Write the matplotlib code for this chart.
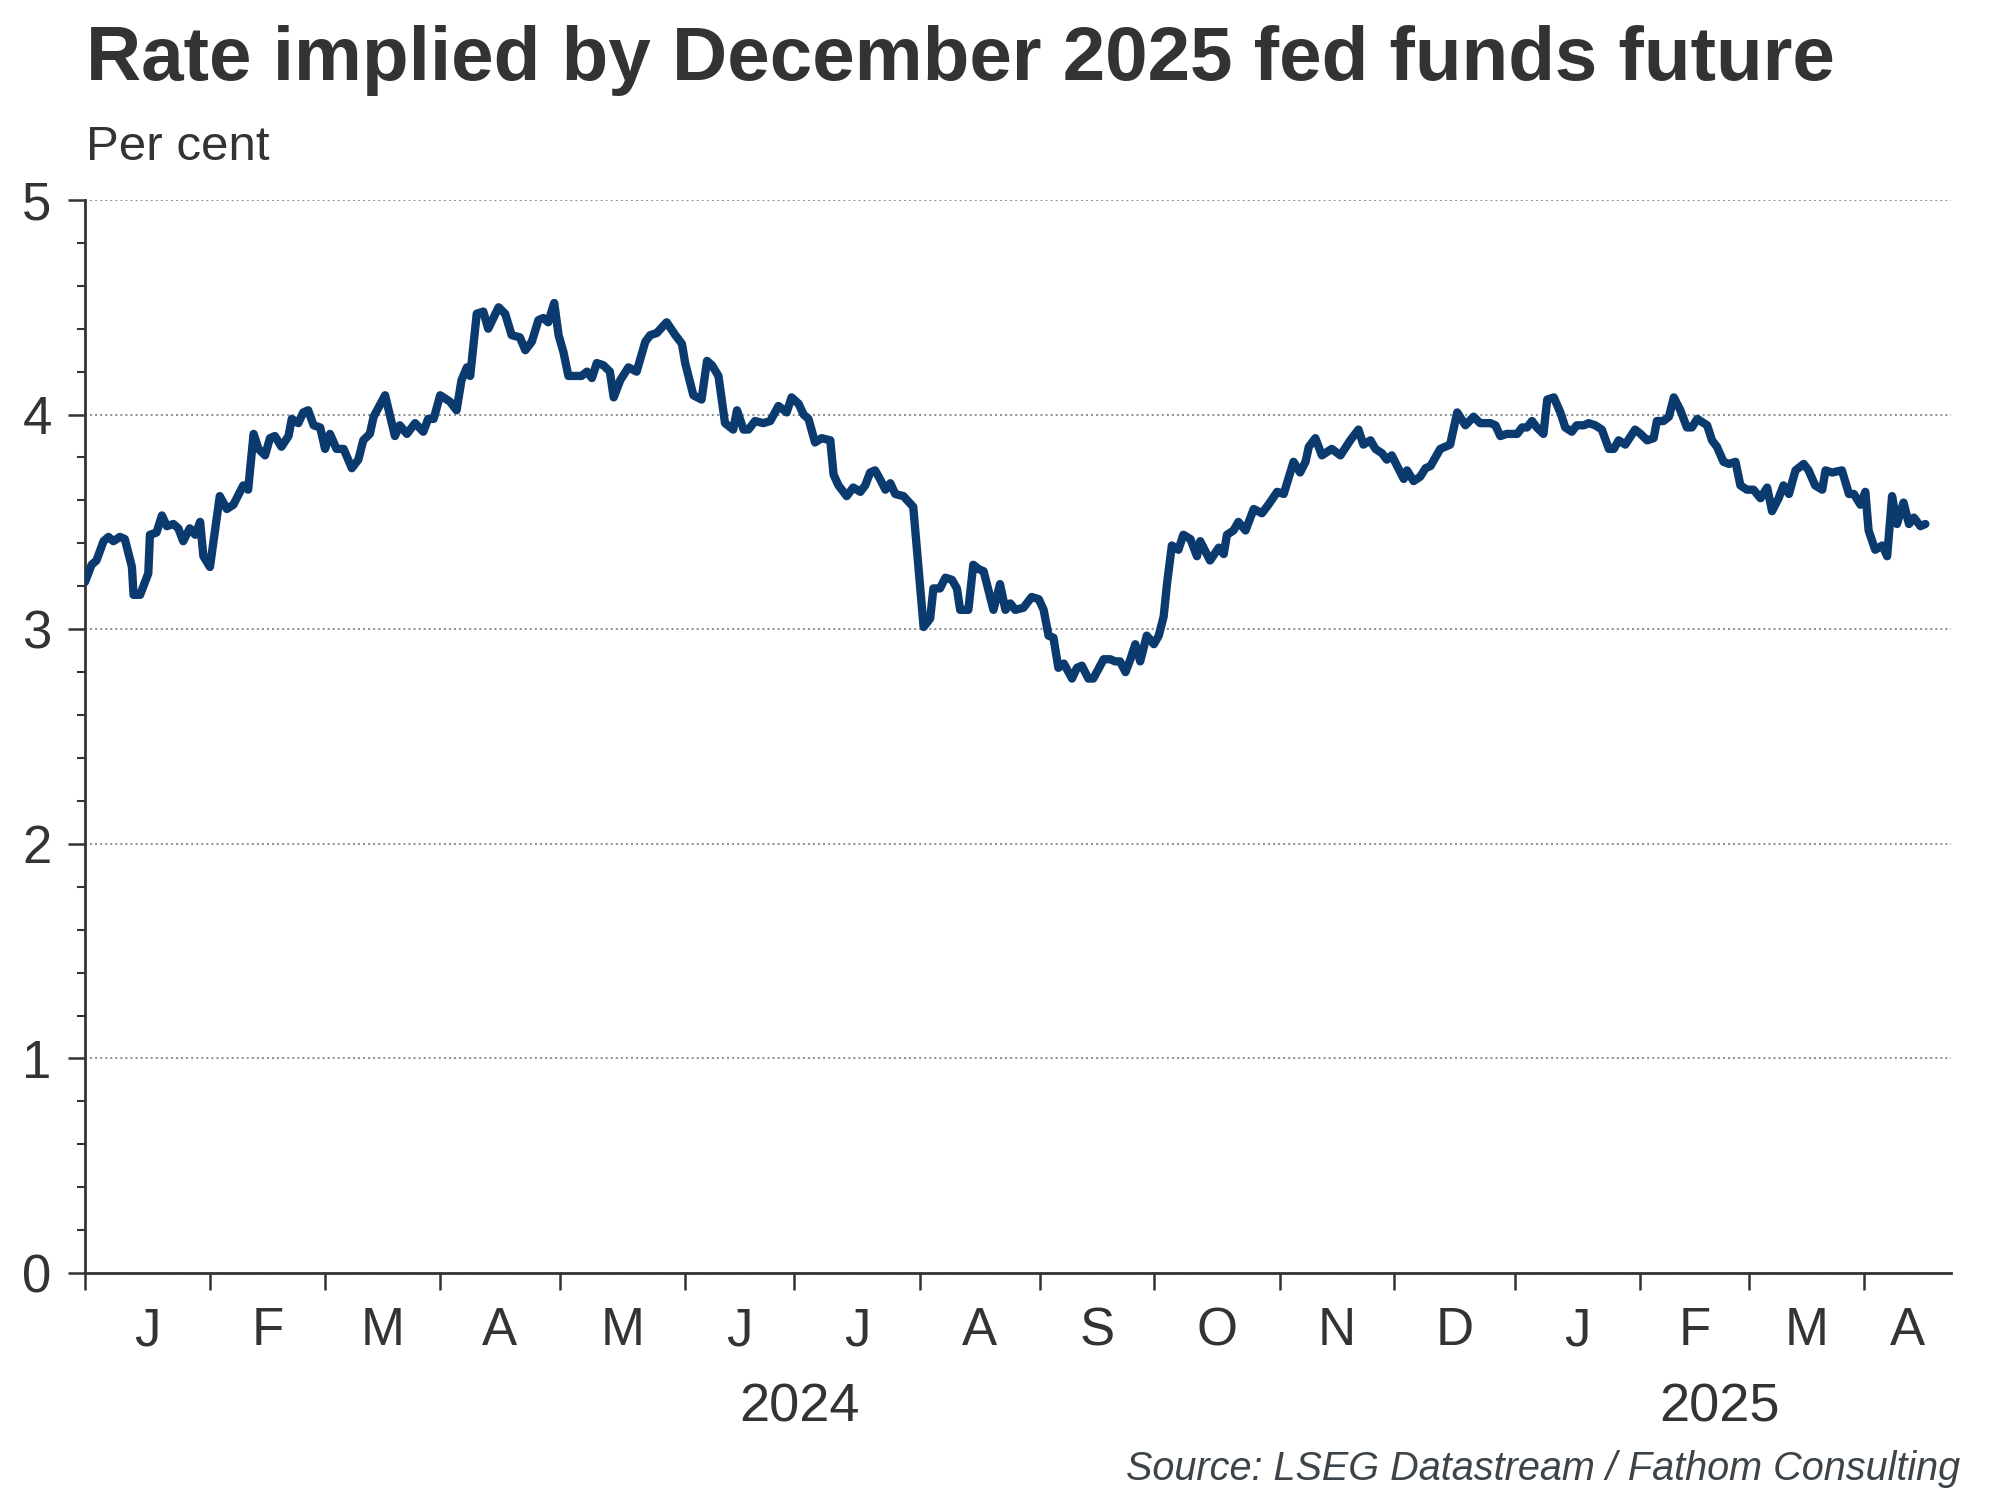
import pandas as pd
import matplotlib
matplotlib.use("Agg")
import matplotlib.pyplot as plt
import matplotlib.transforms as mtransforms
from matplotlib.ticker import FixedLocator, MultipleLocator, NullFormatter

plt.rcParams["font.family"] = ["Liberation Sans", "DejaVu Sans"]

# trading day number (0 = 1 Jan 2024) and implied rate (per cent)
day = [
    0, 1.2, 2.1, 3.4, 4.3, 5.2, 6.4, 7.3, 8.6, 8.9,
    10.1, 11.6, 11.9, 13.1, 14.1, 15, 16.2, 17.1, 18, 19.2,
    20.2, 21.1, 21.7, 22.9, 24.7, 26, 27.2, 28.4, 29, 29.9,
    30.9, 31.8, 33, 33.9, 34.8, 36, 37.3, 37.9, 39.1, 40,
    40.9, 41.9, 43.1, 44, 44.9, 46.1, 47.4, 48.9, 50.1, 51,
    52.2, 52.9, 55, 56.8, 57.7, 59, 60.5, 62, 62.9, 63.9,
    65.1, 66.9, 68.1, 69, 70, 70.6, 71.8, 73, 73.9, 75.8,
    77, 78.2, 79.7, 80.7, 81.9, 83.1, 84, 84.9, 86,
    86.8, 87.7, 88.6, 89.5, 91, 92, 92.9, 93.8, 95, 96.2,
    96.9, 98.1, 99.6, 101.1, 102.7, 103.6, 104.8, 106.6, 108.2, 109.4,
    110, 111.5, 113, 114, 114.9, 116.1, 117.3, 118.8, 119.5, 120.7,
    121.6, 122.8, 124.3, 125.6, 127.1, 128.6, 129.5, 130.8, 131.7, 132.6,
    133.8, 135, 136.6, 137.2, 138.1, 139.6, 140.8, 142.1, 143, 143.9,
    144.8, 145.7, 146.7, 147.6, 148.5, 150, 151.8, 153.7, 154.9, 155.5,
    156.7, 157.7, 158.9, 159.8, 160.4, 161.9, 162.8, 163.8, 164.7, 166.5,
    167.7, 168.7, 169.6, 170.5, 172, 173.5, 174.8, 175.7,
    176.6, 177.5, 178.4, 179.4, 180.9, 181.8, 182.7, 183.9, 184.8, 186.7,
    187.9, 188.8, 189.7, 190.7, 191.6, 192.5, 193.4, 194.6, 195.9, 196.8,
    197.7, 198.3, 199.2, 200.4, 201.3, 202.6, 203.8, 204.4, 206.2, 207.8,
    208.7, 209.3, 210.5, 211.4, 212.7, 214.2, 215.7, 216.9, 218.5, 219.7,
    221.5, 222.7, 223.7, 224.3, 225.5, 226.7, 228.5, 230.1, 231.9, 233.4,
    234.3, 235.6, 236.5, 237.7, 238.6, 239.5, 241.7, 242.3, 243.5, 244.7,
    245.7, 246.6, 248.4, 250.2, 251.5, 253, 254.5,
    255.7, 257.6, 258.5, 259.4, 260.6, 262.5, 263.4, 264.3, 265.2, 266.1,
    267.3, 268, 269.2, 270.4, 271.3, 272.5, 273.4, 274.7, 275.6, 276.8,
    278, 279.3, 280.2, 281.1, 282.3, 284.1, 285.1, 286.3, 287.5, 288.1,
    289.3, 290.3, 291.2, 292.4, 293.6, 294.5, 295.5, 297.3, 298.2, 299.1,
    300.3, 301.3, 302.5, 303.4, 304.6, 305.8, 307.1, 308.3, 309.2, 310.4,
    311.3, 312.3, 313.5, 315, 315.9, 317.1, 318.4, 319, 320.2, 322,
    323.3, 324.2, 325.4, 326.3, 326.9, 328.1, 329.4, 330.3, 331.2, 332.1,
    333.3, 334.3, 335.2, 336.4, 337.3,
]
rate = [
    3.22, 3.30, 3.32, 3.41, 3.43, 3.41, 3.43, 3.42, 3.29, 3.16,
    3.16, 3.26, 3.44, 3.45, 3.53, 3.48, 3.49, 3.47, 3.41, 3.47,
    3.44, 3.50, 3.34, 3.29, 3.62, 3.56, 3.58, 3.64, 3.67, 3.65,
    3.91, 3.84, 3.81, 3.89, 3.90, 3.85, 3.90, 3.98, 3.96, 4.01,
    4.02, 3.95, 3.94, 3.84, 3.91, 3.84, 3.84, 3.75, 3.79, 3.88,
    3.91, 3.99, 4.09, 3.90, 3.95, 3.91, 3.96, 3.92, 3.98, 3.98,
    4.09, 4.06, 4.02, 4.16, 4.22, 4.18, 4.47, 4.48, 4.40, 4.50,
    4.47, 4.37, 4.36, 4.30, 4.34, 4.44, 4.45, 4.43, 4.52,
    4.37, 4.29, 4.18, 4.18, 4.18, 4.20, 4.17, 4.24, 4.23, 4.20,
    4.08, 4.16, 4.22, 4.20, 4.34, 4.37, 4.38, 4.43, 4.37, 4.33,
    4.24, 4.09, 4.07, 4.25, 4.23, 4.18, 3.96, 3.93, 4.02, 3.93,
    3.93, 3.97, 3.96, 3.97, 4.04, 4.01, 4.08, 4.05, 4.00, 3.98,
    3.87, 3.89, 3.88, 3.72, 3.67, 3.62, 3.66, 3.64, 3.67, 3.73,
    3.74, 3.70, 3.65, 3.68, 3.63, 3.62, 3.57, 3.01, 3.05, 3.19,
    3.19, 3.24, 3.23, 3.19, 3.09, 3.09, 3.30, 3.28, 3.27, 3.09,
    3.21, 3.09, 3.12, 3.09, 3.10, 3.15, 3.14, 3.09,
    2.97, 2.96, 2.82, 2.84, 2.77, 2.82, 2.83, 2.77, 2.77, 2.86,
    2.86, 2.85, 2.85, 2.80, 2.86, 2.93, 2.85, 2.97, 2.93, 2.97,
    3.06, 3.21, 3.39, 3.37, 3.44, 3.42, 3.34, 3.41, 3.32, 3.38,
    3.35, 3.44, 3.46, 3.50, 3.46, 3.56, 3.54, 3.58, 3.64, 3.63,
    3.78, 3.73, 3.78, 3.85, 3.89, 3.81, 3.84, 3.81, 3.88, 3.93,
    3.86, 3.88, 3.84, 3.82, 3.79, 3.81, 3.70, 3.74, 3.69, 3.71,
    3.75, 3.76, 3.84, 3.86, 4.01, 3.95, 3.99,
    3.96, 3.96, 3.95, 3.90, 3.91, 3.91, 3.94, 3.94, 3.97, 3.94,
    3.91, 4.07, 4.08, 4.01, 3.94, 3.92, 3.95, 3.95, 3.96, 3.95,
    3.93, 3.84, 3.84, 3.88, 3.86, 3.93, 3.91, 3.88, 3.89, 3.97,
    3.97, 3.99, 4.08, 4.02, 3.94, 3.94, 3.98, 3.95, 3.88, 3.85,
    3.78, 3.77, 3.78, 3.67, 3.65, 3.65, 3.61, 3.66, 3.55, 3.61,
    3.67, 3.63, 3.74, 3.77, 3.74, 3.67, 3.65, 3.74, 3.73, 3.74,
    3.63, 3.63, 3.58, 3.64, 3.46, 3.37, 3.39, 3.34, 3.62, 3.49,
    3.59, 3.49, 3.52, 3.48, 3.49,
]

title = "Rate implied by December 2025 fed funds future"
units = "Per cent"
source = "Source: LSEG Datastream / Fathom Consulting"

TEXT = "#333333"
LINE = "#0b3a6e"

# business-day calendar for the axis
bdays = pd.bdate_range("2024-01-01", "2025-04-30")
x_end = 342
starts = [i for i in range(len(bdays)) if i == 0 or bdays[i].month != bdays[i - 1].month]
starts = [s for s in starts if s < x_end]
bounds = starts + [x_end]
mid = [(bounds[k] + bounds[k + 1]) / 2 for k in range(len(starts))]
letters = [bdays[s].strftime("%b")[0] for s in starts]
jan25 = [s for s in starts if bdays[s].year == 2025][0]

fig = plt.figure(figsize=(20, 15), dpi=100)
ax = fig.add_axes([0.0425, 0.1513, 0.933, 0.7154])

ax.plot(day, rate, color=LINE, lw=6, solid_joinstyle="round", solid_capstyle="round", zorder=3)

ax.set_ylim(0, 5)
ax.set_xlim(0, x_end)

ax.yaxis.set_major_locator(MultipleLocator(1))
ax.yaxis.set_minor_locator(MultipleLocator(0.2))
ax.grid(axis="y", which="major", ls=(0, (1, 1.6)), color="#8c8c8c", lw=1.4)

ax.xaxis.set_major_locator(FixedLocator(starts))
ax.xaxis.set_major_formatter(NullFormatter())
ax.xaxis.set_minor_locator(FixedLocator(mid))
ax.set_xticklabels(letters, minor=True)

for s in ["top", "right"]:
    ax.spines[s].set_visible(False)
for s in ["left", "bottom"]:
    ax.spines[s].set_color(TEXT)
    ax.spines[s].set_linewidth(2)

ax.tick_params(axis="y", which="major", length=12, width=1.8, color=TEXT,
               labelsize=38, labelcolor=TEXT, pad=12)
ax.tick_params(axis="y", which="minor", length=6, width=1.5, color=TEXT)
ax.tick_params(axis="x", which="major", length=12, width=1.8, color=TEXT)
ax.tick_params(axis="x", which="minor", length=0, labelsize=38, labelcolor=TEXT, pad=24)

trans = mtransforms.blended_transform_factory(ax.transData, ax.transAxes)
ax.text(jan25 / 2, -0.125, "2024", transform=trans, ha="center", va="center",
        fontsize=39, color=TEXT)
ax.text((jan25 + day[-1]) / 2, -0.125, "2025", transform=trans, ha="center", va="center",
        fontsize=39, color=TEXT)

fig.text(0.043, 0.947, title, fontsize=55, fontweight="bold", color=TEXT, va="baseline")
fig.text(0.043, 0.893, units, fontsize=35.5, color=TEXT, va="baseline")
fig.text(0.98, 0.021, source, fontsize=28.5, style="italic", color="#3d4449",
         ha="right", va="center")

fig.savefig("out.png", dpi=100)
